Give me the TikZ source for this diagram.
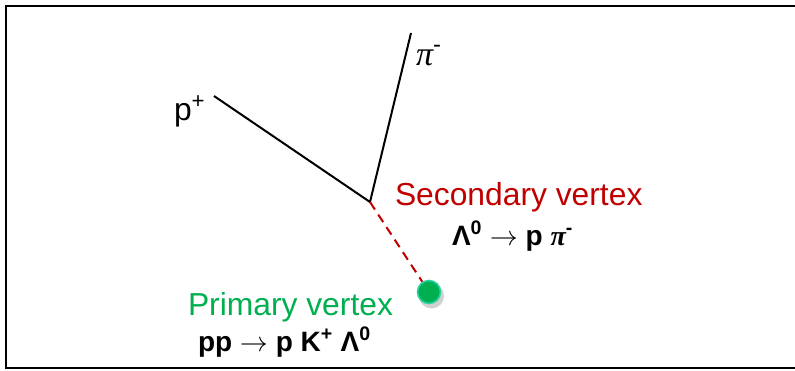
\RequirePackage{fix-cm}
\documentclass[tikz,border=0pt]{standalone}
\usepackage{fontspec}
\setmainfont{Liberation Sans}
\newfontfamily\pifont{Liberation Serif}
\definecolor{svred}{HTML}{C00000}
\definecolor{pvgreen}{HTML}{00B050}
\definecolor{pvedge}{HTML}{2ED3A4}
\newcommand{\thinarrow}{\mdseries$\rightarrow$\bfseries}
\begin{document}
\begin{tikzpicture}[x=1bp,y=-1bp,
  track/.style={line width=2bp,black},
  lambda/.style={line width=2bp,svred,dash pattern=on 9bp off 6bp},
  lbl/.style={anchor=base west,inner sep=0pt,outer sep=0pt},
  big/.style={font=\fontsize{31.8bp}{36bp}\selectfont},
  bigb/.style={font=\fontsize{28bp}{32bp}\selectfont\bfseries},
  dot/.style={circle,minimum size=23bp,inner sep=0pt,fill=pvgreen,draw=pvedge,line width=1.6bp}]
\useasboundingbox (0,0) rectangle (795,370);
\fill[white] (0,0) rectangle (795,370);
\draw[line width=2bp] (800,6) -- (6,6) -- (6,368) -- (800,368);
% vertices and track ends
\coordinate (sv) at (370,202);
\coordinate (pend) at (214,96);
\coordinate (piend) at (411,33);
\fill[black,opacity=0.18] (431.5,296) circle (12.5bp);
\node[dot] (pv) at (429,292) {};
% tracks
\draw[track] (pend) -- (sv) -- (piend);
\draw[lambda] (sv) -- (pv);
% labels
\node[lbl,big] (lp) at (174,120) {p\textsuperscript{+}};
\node[lbl,font=\fontsize{34bp}{38bp}\selectfont] (lpi) at (416,65) {{\pifont\itshape π}\textsuperscript{-}};
\node[lbl,big,text=svred] (lsv) at (395,205) {Secondary vertex};
\node[lbl,bigb] (lsvr) at (452,245) {Λ\textsuperscript{0} \thinarrow{} p {\pifont\itshape π}\textsuperscript{-}};
\node[lbl,big,text=pvgreen] (lpv) at (188,315) {Primary vertex};
\node[lbl,bigb] (lpvr) at (198,351) {pp \thinarrow{} p K\textsuperscript{+} Λ\textsuperscript{0}};
\end{tikzpicture}
\end{document}
